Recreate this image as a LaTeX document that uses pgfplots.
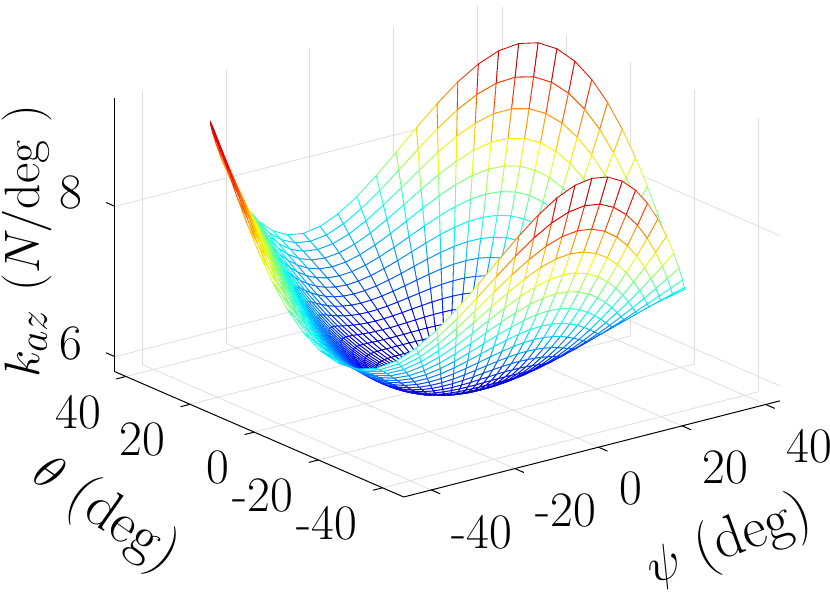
\documentclass[border=0pt]{standalone}
\usepackage{pgfplots}
\pgfplotsset{compat=1.18}
\begin{document}
\begin{tikzpicture}
\begin{axis}[
  scale only axis, width=332.5pt, height=247.5pt,
  view={-37.5}{30},
  xmin=-45, xmax=45, ymin=-45, ymax=45, zmin=5.8, zmax=9.44,
  xtick={-38.4,-18.4,1.6,21.6,41.6}, xticklabels={-40,-20,0,20,40},
  ytick={-38.4,-18.4,1.6,21.6,41.6}, yticklabels={-40,-20,0,20,40},
  ztick={6,8}, zticklabels={6,8},
  grid=major, grid style={black!13, line width=0.4pt},
  axis line style={draw=none},
  tick style={draw=none},
  major tick length=4.5pt, tick align=outside,
  ticklabel style={font=\fontsize{24.8}{28}\selectfont, inner sep=0pt},
  xticklabel style={anchor=north west, xshift=6pt, yshift=-10.5pt},
  yticklabel style={anchor=north east, xshift=-8pt, yshift=-8pt},
  zticklabel style={anchor=east, xshift=-12pt, yshift=5pt},
  xlabel={$\psi$ (deg)}, ylabel={$\theta$ (deg)}, zlabel={$k_{az}$ $(N/\mathrm{deg}\ )$},
  every axis x label/.style={at={(rel axis cs:0.372,-0.644,0)}, anchor=center, rotate=20, font=\fontsize{29}{33}\selectfont},
  every axis y label/.style={at={(rel axis cs:-0.565,0.296,0)}, anchor=center, rotate=-35, font=\fontsize{29}{33}\selectfont},
  every axis z label/.style={at={(rel axis cs:-0.234,1,0.56)}, anchor=center, rotate=90, font=\fontsize{30}{34}\selectfont},
  colormap={myjet}{rgb255=(0,0,128) rgb255=(0,0,255) rgb255=(0,128,255) rgb255=(0,255,255) rgb255=(128,255,128) rgb255=(255,255,0) rgb255=(255,128,0) rgb255=(255,0,0) rgb255=(128,0,0)},
  point meta min=5.79, point meta max=9.41,
  clip=false,
]
\addplot3[surf, shader=faceted, fill=white, faceted color=mapped color, line width=0.42pt, z buffer=sort, data cs=polar, mesh/cols=73] table {
-180 0 5.800
-175 0 5.800
-170 0 5.800
-165 0 5.800
-160 0 5.800
-155 0 5.800
-150 0 5.800
-145 0 5.800
-140 0 5.800
-135 0 5.800
-130 0 5.800
-125 0 5.800
-120 0 5.800
-115 0 5.800
-110 0 5.800
-105 0 5.800
-100 0 5.800
-95 0 5.800
-90 0 5.800
-85 0 5.800
-80 0 5.800
-75 0 5.800
-70 0 5.800
-65 0 5.800
-60 0 5.800
-55 0 5.800
-50 0 5.800
-45 0 5.800
-40 0 5.800
-35 0 5.800
-30 0 5.800
-25 0 5.800
-20 0 5.800
-15 0 5.800
-10 0 5.800
-5 0 5.800
0 0 5.800
5 0 5.800
10 0 5.800
15 0 5.800
20 0 5.800
25 0 5.800
30 0 5.800
35 0 5.800
40 0 5.800
45 0 5.800
50 0 5.800
55 0 5.800
60 0 5.800
65 0 5.800
70 0 5.800
75 0 5.800
80 0 5.800
85 0 5.800
90 0 5.800
95 0 5.800
100 0 5.800
105 0 5.800
110 0 5.800
115 0 5.800
120 0 5.800
125 0 5.800
130 0 5.800
135 0 5.800
140 0 5.800
145 0 5.800
150 0 5.800
155 0 5.800
160 0 5.800
165 0 5.800
170 0 5.800
175 0 5.800
180 0 5.800
-180 2.25 5.806
-175 2.25 5.806
-170 2.25 5.806
-165 2.25 5.806
-160 2.25 5.806
-155 2.25 5.806
-150 2.25 5.806
-145 2.25 5.806
-140 2.25 5.806
-135 2.25 5.806
-130 2.25 5.806
-125 2.25 5.806
-120 2.25 5.806
-115 2.25 5.806
-110 2.25 5.806
-105 2.25 5.806
-100 2.25 5.806
-95 2.25 5.806
-90 2.25 5.806
-85 2.25 5.806
-80 2.25 5.806
-75 2.25 5.806
-70 2.25 5.806
-65 2.25 5.806
-60 2.25 5.806
-55 2.25 5.806
-50 2.25 5.806
-45 2.25 5.806
-40 2.25 5.806
-35 2.25 5.806
-30 2.25 5.806
-25 2.25 5.806
-20 2.25 5.806
-15 2.25 5.806
-10 2.25 5.806
-5 2.25 5.806
0 2.25 5.806
5 2.25 5.806
10 2.25 5.806
15 2.25 5.806
20 2.25 5.806
25 2.25 5.806
30 2.25 5.806
35 2.25 5.806
40 2.25 5.806
45 2.25 5.806
50 2.25 5.806
55 2.25 5.806
60 2.25 5.806
65 2.25 5.806
70 2.25 5.806
75 2.25 5.806
80 2.25 5.806
85 2.25 5.806
90 2.25 5.806
95 2.25 5.806
100 2.25 5.806
105 2.25 5.806
110 2.25 5.806
115 2.25 5.806
120 2.25 5.806
125 2.25 5.806
130 2.25 5.806
135 2.25 5.806
140 2.25 5.806
145 2.25 5.806
150 2.25 5.806
155 2.25 5.806
160 2.25 5.806
165 2.25 5.806
170 2.25 5.806
175 2.25 5.806
180 2.25 5.806
-180 4.5 5.824
-175 4.5 5.824
-170 4.5 5.823
-165 4.5 5.823
-160 4.5 5.823
-155 4.5 5.823
-150 4.5 5.823
-145 4.5 5.823
-140 4.5 5.823
-135 4.5 5.823
-130 4.5 5.823
-125 4.5 5.824
-120 4.5 5.824
-115 4.5 5.824
-110 4.5 5.825
-105 4.5 5.825
-100 4.5 5.825
-95 4.5 5.825
-90 4.5 5.825
-85 4.5 5.825
-80 4.5 5.825
-75 4.5 5.825
-70 4.5 5.825
-65 4.5 5.824
-60 4.5 5.824
-55 4.5 5.824
-50 4.5 5.823
-45 4.5 5.823
-40 4.5 5.823
-35 4.5 5.823
-30 4.5 5.823
-25 4.5 5.823
-20 4.5 5.823
-15 4.5 5.823
-10 4.5 5.823
-5 4.5 5.824
0 4.5 5.824
5 4.5 5.824
10 4.5 5.825
15 4.5 5.825
20 4.5 5.825
25 4.5 5.825
30 4.5 5.825
35 4.5 5.825
40 4.5 5.825
45 4.5 5.825
50 4.5 5.825
55 4.5 5.824
60 4.5 5.824
65 4.5 5.824
70 4.5 5.823
75 4.5 5.823
80 4.5 5.823
85 4.5 5.823
90 4.5 5.823
95 4.5 5.823
100 4.5 5.823
105 4.5 5.823
110 4.5 5.823
115 4.5 5.824
120 4.5 5.824
125 4.5 5.824
130 4.5 5.825
135 4.5 5.825
140 4.5 5.825
145 4.5 5.825
150 4.5 5.825
155 4.5 5.825
160 4.5 5.825
165 4.5 5.825
170 4.5 5.825
175 4.5 5.824
180 4.5 5.824
-180 6.75 5.854
-175 6.75 5.853
-170 6.75 5.852
-165 6.75 5.851
-160 6.75 5.850
-155 6.75 5.850
-150 6.75 5.850
-145 6.75 5.850
-140 6.75 5.850
-135 6.75 5.851
-130 6.75 5.852
-125 6.75 5.853
-120 6.75 5.854
-115 6.75 5.855
-110 6.75 5.856
-105 6.75 5.857
-100 6.75 5.858
-95 6.75 5.858
-90 6.75 5.858
-85 6.75 5.858
-80 6.75 5.858
-75 6.75 5.857
-70 6.75 5.856
-65 6.75 5.855
-60 6.75 5.854
-55 6.75 5.853
-50 6.75 5.852
-45 6.75 5.851
-40 6.75 5.850
-35 6.75 5.850
-30 6.75 5.850
-25 6.75 5.850
-20 6.75 5.850
-15 6.75 5.851
-10 6.75 5.852
-5 6.75 5.853
0 6.75 5.854
5 6.75 5.855
10 6.75 5.856
15 6.75 5.857
20 6.75 5.858
25 6.75 5.858
30 6.75 5.858
35 6.75 5.858
40 6.75 5.858
45 6.75 5.857
50 6.75 5.856
55 6.75 5.855
60 6.75 5.854
65 6.75 5.853
70 6.75 5.852
75 6.75 5.851
80 6.75 5.850
85 6.75 5.850
90 6.75 5.850
95 6.75 5.850
100 6.75 5.850
105 6.75 5.851
110 6.75 5.852
115 6.75 5.853
120 6.75 5.854
125 6.75 5.855
130 6.75 5.856
135 6.75 5.857
140 6.75 5.858
145 6.75 5.858
150 6.75 5.858
155 6.75 5.858
160 6.75 5.858
165 6.75 5.857
170 6.75 5.856
175 6.75 5.855
180 6.75 5.854
-180 9 5.896
-175 9 5.894
-170 9 5.891
-165 9 5.889
-160 9 5.888
-155 9 5.887
-150 9 5.886
-145 9 5.887
-140 9 5.888
-135 9 5.889
-130 9 5.891
-125 9 5.894
-120 9 5.896
-115 9 5.898
-110 9 5.901
-105 9 5.903
-100 9 5.904
-95 9 5.905
-90 9 5.906
-85 9 5.905
-80 9 5.904
-75 9 5.903
-70 9 5.901
-65 9 5.898
-60 9 5.896
-55 9 5.894
-50 9 5.891
-45 9 5.889
-40 9 5.888
-35 9 5.887
-30 9 5.886
-25 9 5.887
-20 9 5.888
-15 9 5.889
-10 9 5.891
-5 9 5.894
0 9 5.896
5 9 5.898
10 9 5.901
15 9 5.903
20 9 5.904
25 9 5.905
30 9 5.906
35 9 5.905
40 9 5.904
45 9 5.903
50 9 5.901
55 9 5.898
60 9 5.896
65 9 5.894
70 9 5.891
75 9 5.889
80 9 5.888
85 9 5.887
90 9 5.886
95 9 5.887
100 9 5.888
105 9 5.889
110 9 5.891
115 9 5.894
120 9 5.896
125 9 5.898
130 9 5.901
135 9 5.903
140 9 5.904
145 9 5.905
150 9 5.906
155 9 5.905
160 9 5.904
165 9 5.903
170 9 5.901
175 9 5.898
180 9 5.896
-180 11.25 5.950
-175 11.25 5.945
-170 11.25 5.941
-165 11.25 5.937
-160 11.25 5.934
-155 11.25 5.932
-150 11.25 5.931
-145 11.25 5.932
-140 11.25 5.934
-135 11.25 5.937
-130 11.25 5.941
-125 11.25 5.945
-120 11.25 5.950
-115 11.25 5.955
-110 11.25 5.959
-105 11.25 5.963
-100 11.25 5.966
-95 11.25 5.968
-90 11.25 5.969
-85 11.25 5.968
-80 11.25 5.966
-75 11.25 5.963
-70 11.25 5.959
-65 11.25 5.955
-60 11.25 5.950
-55 11.25 5.945
-50 11.25 5.941
-45 11.25 5.937
-40 11.25 5.934
-35 11.25 5.932
-30 11.25 5.931
-25 11.25 5.932
-20 11.25 5.934
-15 11.25 5.937
-10 11.25 5.941
-5 11.25 5.945
0 11.25 5.950
5 11.25 5.955
10 11.25 5.959
15 11.25 5.963
20 11.25 5.966
25 11.25 5.968
30 11.25 5.969
35 11.25 5.968
40 11.25 5.966
45 11.25 5.963
50 11.25 5.959
55 11.25 5.955
60 11.25 5.950
65 11.25 5.945
70 11.25 5.941
75 11.25 5.937
80 11.25 5.934
85 11.25 5.932
90 11.25 5.931
95 11.25 5.932
100 11.25 5.934
105 11.25 5.937
110 11.25 5.941
115 11.25 5.945
120 11.25 5.950
125 11.25 5.955
130 11.25 5.959
135 11.25 5.963
140 11.25 5.966
145 11.25 5.968
150 11.25 5.969
155 11.25 5.968
160 11.25 5.966
165 11.25 5.963
170 11.25 5.959
175 11.25 5.955
180 11.25 5.950
-180 13.5 6.016
-175 13.5 6.008
-170 13.5 6.000
-165 13.5 5.993
-160 13.5 5.988
-155 13.5 5.985
-150 13.5 5.984
-145 13.5 5.985
-140 13.5 5.988
-135 13.5 5.993
-130 13.5 6.000
-125 13.5 6.008
-120 13.5 6.016
-115 13.5 6.024
-110 13.5 6.032
-105 13.5 6.039
-100 13.5 6.044
-95 13.5 6.047
-90 13.5 6.048
-85 13.5 6.047
-80 13.5 6.044
-75 13.5 6.039
-70 13.5 6.032
-65 13.5 6.024
-60 13.5 6.016
-55 13.5 6.008
-50 13.5 6.000
-45 13.5 5.993
-40 13.5 5.988
-35 13.5 5.985
-30 13.5 5.984
-25 13.5 5.985
-20 13.5 5.988
-15 13.5 5.993
-10 13.5 6.000
-5 13.5 6.008
0 13.5 6.016
5 13.5 6.024
10 13.5 6.032
15 13.5 6.039
20 13.5 6.044
25 13.5 6.047
30 13.5 6.048
35 13.5 6.047
40 13.5 6.044
45 13.5 6.039
50 13.5 6.032
55 13.5 6.024
60 13.5 6.016
65 13.5 6.008
70 13.5 6.000
75 13.5 5.993
80 13.5 5.988
85 13.5 5.985
90 13.5 5.984
95 13.5 5.985
100 13.5 5.988
105 13.5 5.993
110 13.5 6.000
115 13.5 6.008
120 13.5 6.016
125 13.5 6.024
130 13.5 6.032
135 13.5 6.039
140 13.5 6.044
145 13.5 6.047
150 13.5 6.048
155 13.5 6.047
160 13.5 6.044
165 13.5 6.039
170 13.5 6.032
175 13.5 6.024
180 13.5 6.016
-180 15.75 6.094
-175 15.75 6.081
-170 15.75 6.068
-165 15.75 6.058
-160 15.75 6.049
-155 15.75 6.044
-150 15.75 6.043
-145 15.75 6.044
-140 15.75 6.049
-135 15.75 6.058
-130 15.75 6.068
-125 15.75 6.081
-120 15.75 6.094
-115 15.75 6.107
-110 15.75 6.120
-105 15.75 6.130
-100 15.75 6.139
-95 15.75 6.144
-90 15.75 6.146
-85 15.75 6.144
-80 15.75 6.139
-75 15.75 6.130
-70 15.75 6.120
-65 15.75 6.107
-60 15.75 6.094
-55 15.75 6.081
-50 15.75 6.068
-45 15.75 6.058
-40 15.75 6.049
-35 15.75 6.044
-30 15.75 6.043
-25 15.75 6.044
-20 15.75 6.049
-15 15.75 6.058
-10 15.75 6.068
-5 15.75 6.081
0 15.75 6.094
5 15.75 6.107
10 15.75 6.120
15 15.75 6.130
20 15.75 6.139
25 15.75 6.144
30 15.75 6.146
35 15.75 6.144
40 15.75 6.139
45 15.75 6.130
50 15.75 6.120
55 15.75 6.107
60 15.75 6.094
65 15.75 6.081
70 15.75 6.068
75 15.75 6.058
80 15.75 6.049
85 15.75 6.044
90 15.75 6.043
95 15.75 6.044
100 15.75 6.049
105 15.75 6.058
110 15.75 6.068
115 15.75 6.081
120 15.75 6.094
125 15.75 6.107
130 15.75 6.120
135 15.75 6.130
140 15.75 6.139
145 15.75 6.144
150 15.75 6.146
155 15.75 6.144
160 15.75 6.139
165 15.75 6.130
170 15.75 6.120
175 15.75 6.107
180 15.75 6.094
-180 18 6.184
-175 18 6.164
-170 18 6.146
-165 18 6.130
-160 18 6.117
-155 18 6.110
-150 18 6.107
-145 18 6.110
-140 18 6.117
-135 18 6.130
-130 18 6.146
-125 18 6.164
-120 18 6.184
-115 18 6.204
-110 18 6.222
-105 18 6.238
-100 18 6.251
-95 18 6.258
-90 18 6.261
-85 18 6.258
-80 18 6.251
-75 18 6.238
-70 18 6.222
-65 18 6.204
-60 18 6.184
-55 18 6.164
-50 18 6.146
-45 18 6.130
-40 18 6.117
-35 18 6.110
-30 18 6.107
-25 18 6.110
-20 18 6.117
-15 18 6.130
-10 18 6.146
-5 18 6.164
0 18 6.184
5 18 6.204
10 18 6.222
15 18 6.238
20 18 6.251
25 18 6.258
30 18 6.261
35 18 6.258
40 18 6.251
45 18 6.238
50 18 6.222
55 18 6.204
60 18 6.184
65 18 6.164
70 18 6.146
75 18 6.130
80 18 6.117
85 18 6.110
90 18 6.107
95 18 6.110
100 18 6.117
105 18 6.130
110 18 6.146
115 18 6.164
120 18 6.184
125 18 6.204
130 18 6.222
135 18 6.238
140 18 6.251
145 18 6.258
150 18 6.261
155 18 6.258
160 18 6.251
165 18 6.238
170 18 6.222
175 18 6.204
180 18 6.184
-180 20.25 6.286
-175 20.25 6.258
-170 20.25 6.231
-165 20.25 6.209
-160 20.25 6.191
-155 20.25 6.180
-150 20.25 6.177
-145 20.25 6.180
-140 20.25 6.191
-135 20.25 6.209
-130 20.25 6.231
-125 20.25 6.258
-120 20.25 6.286
-115 20.25 6.314
-110 20.25 6.341
-105 20.25 6.363
-100 20.25 6.381
-95 20.25 6.392
-90 20.25 6.395
-85 20.25 6.392
-80 20.25 6.381
-75 20.25 6.363
-70 20.25 6.341
-65 20.25 6.314
-60 20.25 6.286
-55 20.25 6.258
-50 20.25 6.231
-45 20.25 6.209
-40 20.25 6.191
-35 20.25 6.180
-30 20.25 6.177
-25 20.25 6.180
-20 20.25 6.191
-15 20.25 6.209
-10 20.25 6.231
-5 20.25 6.258
0 20.25 6.286
5 20.25 6.314
10 20.25 6.341
15 20.25 6.363
20 20.25 6.381
25 20.25 6.392
30 20.25 6.395
35 20.25 6.392
40 20.25 6.381
45 20.25 6.363
50 20.25 6.341
55 20.25 6.314
60 20.25 6.286
65 20.25 6.258
70 20.25 6.231
75 20.25 6.209
80 20.25 6.191
85 20.25 6.180
90 20.25 6.177
95 20.25 6.180
100 20.25 6.191
105 20.25 6.209
110 20.25 6.231
115 20.25 6.258
120 20.25 6.286
125 20.25 6.314
130 20.25 6.341
135 20.25 6.363
140 20.25 6.381
145 20.25 6.392
150 20.25 6.395
155 20.25 6.392
160 20.25 6.381
165 20.25 6.363
170 20.25 6.341
175 20.25 6.314
180 20.25 6.286
-180 22.5 6.400
-175 22.5 6.361
-170 22.5 6.325
-165 22.5 6.294
-160 22.5 6.270
-155 22.5 6.255
-150 22.5 6.250
-145 22.5 6.255
-140 22.5 6.270
-135 22.5 6.294
-130 22.5 6.325
-125 22.5 6.361
-120 22.5 6.400
-115 22.5 6.439
-110 22.5 6.475
-105 22.5 6.506
-100 22.5 6.530
-95 22.5 6.545
-90 22.5 6.550
-85 22.5 6.545
-80 22.5 6.530
-75 22.5 6.506
-70 22.5 6.475
-65 22.5 6.439
-60 22.5 6.400
-55 22.5 6.361
-50 22.5 6.325
-45 22.5 6.294
-40 22.5 6.270
-35 22.5 6.255
-30 22.5 6.250
-25 22.5 6.255
-20 22.5 6.270
-15 22.5 6.294
-10 22.5 6.325
-5 22.5 6.361
0 22.5 6.400
5 22.5 6.439
10 22.5 6.475
15 22.5 6.506
20 22.5 6.530
25 22.5 6.545
30 22.5 6.550
35 22.5 6.545
40 22.5 6.530
45 22.5 6.506
50 22.5 6.475
55 22.5 6.439
60 22.5 6.400
65 22.5 6.361
70 22.5 6.325
75 22.5 6.294
80 22.5 6.270
85 22.5 6.255
90 22.5 6.250
95 22.5 6.255
100 22.5 6.270
105 22.5 6.294
110 22.5 6.325
115 22.5 6.361
120 22.5 6.400
125 22.5 6.439
130 22.5 6.475
135 22.5 6.506
140 22.5 6.530
145 22.5 6.545
150 22.5 6.550
155 22.5 6.545
160 22.5 6.530
165 22.5 6.506
170 22.5 6.475
175 22.5 6.439
180 22.5 6.400
-180 24.75 6.526
-175 24.75 6.474
-170 24.75 6.426
-165 24.75 6.385
-160 24.75 6.353
-155 24.75 6.333
-150 24.75 6.326
-145 24.75 6.333
-140 24.75 6.353
-135 24.75 6.385
-130 24.75 6.426
-125 24.75 6.474
-120 24.75 6.526
-115 24.75 6.578
-110 24.75 6.626
-105 24.75 6.667
-100 24.75 6.699
-95 24.75 6.719
-90 24.75 6.726
-85 24.75 6.719
-80 24.75 6.699
-75 24.75 6.667
-70 24.75 6.626
-65 24.75 6.578
-60 24.75 6.526
-55 24.75 6.474
-50 24.75 6.426
-45 24.75 6.385
-40 24.75 6.353
-35 24.75 6.333
-30 24.75 6.326
-25 24.75 6.333
-20 24.75 6.353
-15 24.75 6.385
-10 24.75 6.426
-5 24.75 6.474
0 24.75 6.526
5 24.75 6.578
10 24.75 6.626
15 24.75 6.667
20 24.75 6.699
25 24.75 6.719
30 24.75 6.726
35 24.75 6.719
40 24.75 6.699
45 24.75 6.667
50 24.75 6.626
55 24.75 6.578
60 24.75 6.526
65 24.75 6.474
70 24.75 6.426
75 24.75 6.385
80 24.75 6.353
85 24.75 6.333
90 24.75 6.326
95 24.75 6.333
100 24.75 6.353
105 24.75 6.385
110 24.75 6.426
115 24.75 6.474
120 24.75 6.526
125 24.75 6.578
130 24.75 6.626
135 24.75 6.667
140 24.75 6.699
145 24.75 6.719
150 24.75 6.726
155 24.75 6.719
160 24.75 6.699
165 24.75 6.667
170 24.75 6.626
175 24.75 6.578
180 24.75 6.526
-180 27 6.664
-175 27 6.597
-170 27 6.534
-165 27 6.481
-160 27 6.440
-155 27 6.414
-150 27 6.405
-145 27 6.414
-140 27 6.440
-135 27 6.481
-130 27 6.534
-125 27 6.597
-120 27 6.664
-115 27 6.731
-110 27 6.794
-105 27 6.847
-100 27 6.888
-95 27 6.914
-90 27 6.923
-85 27 6.914
-80 27 6.888
-75 27 6.847
-70 27 6.794
-65 27 6.731
-60 27 6.664
-55 27 6.597
-50 27 6.534
-45 27 6.481
-40 27 6.440
-35 27 6.414
-30 27 6.405
-25 27 6.414
-20 27 6.440
-15 27 6.481
-10 27 6.534
-5 27 6.597
0 27 6.664
5 27 6.731
10 27 6.794
15 27 6.847
20 27 6.888
25 27 6.914
30 27 6.923
35 27 6.914
40 27 6.888
45 27 6.847
50 27 6.794
55 27 6.731
60 27 6.664
65 27 6.597
70 27 6.534
75 27 6.481
80 27 6.440
85 27 6.414
90 27 6.405
95 27 6.414
100 27 6.440
105 27 6.481
110 27 6.534
115 27 6.597
120 27 6.664
125 27 6.731
130 27 6.794
135 27 6.847
140 27 6.888
145 27 6.914
150 27 6.923
155 27 6.914
160 27 6.888
165 27 6.847
170 27 6.794
175 27 6.731
180 27 6.664
-180 29.25 6.814
-175 29.25 6.729
-170 29.25 6.649
-165 29.25 6.581
-160 29.25 6.529
-155 29.25 6.496
-150 29.25 6.485
-145 29.25 6.496
-140 29.25 6.529
-135 29.25 6.581
-130 29.25 6.649
-125 29.25 6.729
-120 29.25 6.814
-115 29.25 6.899
-110 29.25 6.979
-105 29.25 7.047
-100 29.25 7.099
-95 29.25 7.132
-90 29.25 7.144
-85 29.25 7.132
-80 29.25 7.099
-75 29.25 7.047
-70 29.25 6.979
-65 29.25 6.899
-60 29.25 6.814
-55 29.25 6.729
-50 29.25 6.649
-45 29.25 6.581
-40 29.25 6.529
-35 29.25 6.496
-30 29.25 6.485
-25 29.25 6.496
-20 29.25 6.529
-15 29.25 6.581
-10 29.25 6.649
-5 29.25 6.729
0 29.25 6.814
5 29.25 6.899
10 29.25 6.979
15 29.25 7.047
20 29.25 7.099
25 29.25 7.132
30 29.25 7.144
35 29.25 7.132
40 29.25 7.099
45 29.25 7.047
50 29.25 6.979
55 29.25 6.899
60 29.25 6.814
65 29.25 6.729
70 29.25 6.649
75 29.25 6.581
80 29.25 6.529
85 29.25 6.496
90 29.25 6.485
95 29.25 6.496
100 29.25 6.529
105 29.25 6.581
110 29.25 6.649
115 29.25 6.729
120 29.25 6.814
125 29.25 6.899
130 29.25 6.979
135 29.25 7.047
140 29.25 7.099
145 29.25 7.132
150 29.25 7.144
155 29.25 7.132
160 29.25 7.099
165 29.25 7.047
170 29.25 6.979
175 29.25 6.899
180 29.25 6.814
-180 31.5 6.976
-175 31.5 6.869
-170 31.5 6.770
-165 31.5 6.685
-160 31.5 6.620
-155 31.5 6.578
-150 31.5 6.564
-145 31.5 6.578
-140 31.5 6.620
-135 31.5 6.685
-130 31.5 6.770
-125 31.5 6.869
-120 31.5 6.976
-115 31.5 7.083
-110 31.5 7.182
-105 31.5 7.267
-100 31.5 7.332
-95 31.5 7.374
-90 31.5 7.388
-85 31.5 7.374
-80 31.5 7.332
-75 31.5 7.267
-70 31.5 7.182
-65 31.5 7.083
-60 31.5 6.976
-55 31.5 6.869
-50 31.5 6.770
-45 31.5 6.685
-40 31.5 6.620
-35 31.5 6.578
-30 31.5 6.564
-25 31.5 6.578
-20 31.5 6.620
-15 31.5 6.685
-10 31.5 6.770
-5 31.5 6.869
0 31.5 6.976
5 31.5 7.083
10 31.5 7.182
15 31.5 7.267
20 31.5 7.332
25 31.5 7.374
30 31.5 7.388
35 31.5 7.374
40 31.5 7.332
45 31.5 7.267
50 31.5 7.182
55 31.5 7.083
60 31.5 6.976
65 31.5 6.869
70 31.5 6.770
75 31.5 6.685
80 31.5 6.620
85 31.5 6.578
90 31.5 6.564
95 31.5 6.578
100 31.5 6.620
105 31.5 6.685
110 31.5 6.770
115 31.5 6.869
120 31.5 6.976
125 31.5 7.083
130 31.5 7.182
135 31.5 7.267
140 31.5 7.332
145 31.5 7.374
150 31.5 7.388
155 31.5 7.374
160 31.5 7.332
165 31.5 7.267
170 31.5 7.182
175 31.5 7.083
180 31.5 6.976
-180 33.75 7.150
-175 33.75 7.019
-170 33.75 6.897
-165 33.75 6.792
-160 33.75 6.712
-155 33.75 6.661
-150 33.75 6.644
-145 33.75 6.661
-140 33.75 6.712
-135 33.75 6.792
-130 33.75 6.897
-125 33.75 7.019
-120 33.75 7.150
-115 33.75 7.281
-110 33.75 7.403
-105 33.75 7.508
-100 33.75 7.588
-95 33.75 7.639
-90 33.75 7.656
-85 33.75 7.639
-80 33.75 7.588
-75 33.75 7.508
-70 33.75 7.403
-65 33.75 7.281
-60 33.75 7.150
-55 33.75 7.019
-50 33.75 6.897
-45 33.75 6.792
-40 33.75 6.712
-35 33.75 6.661
-30 33.75 6.644
-25 33.75 6.661
-20 33.75 6.712
-15 33.75 6.792
-10 33.75 6.897
-5 33.75 7.019
0 33.75 7.150
5 33.75 7.281
10 33.75 7.403
15 33.75 7.508
20 33.75 7.588
25 33.75 7.639
30 33.75 7.656
35 33.75 7.639
40 33.75 7.588
45 33.75 7.508
50 33.75 7.403
55 33.75 7.281
60 33.75 7.150
65 33.75 7.019
70 33.75 6.897
75 33.75 6.792
80 33.75 6.712
85 33.75 6.661
90 33.75 6.644
95 33.75 6.661
100 33.75 6.712
105 33.75 6.792
110 33.75 6.897
115 33.75 7.019
120 33.75 7.150
125 33.75 7.281
130 33.75 7.403
135 33.75 7.508
140 33.75 7.588
145 33.75 7.639
150 33.75 7.656
155 33.75 7.639
160 33.75 7.588
165 33.75 7.508
170 33.75 7.403
175 33.75 7.281
180 33.75 7.150
-180 36 7.336
-175 36 7.177
-170 36 7.029
-165 36 6.902
-160 36 6.804
-155 36 6.742
-150 36 6.722
-145 36 6.742
-140 36 6.804
-135 36 6.902
-130 36 7.029
-125 36 7.177
-120 36 7.336
-115 36 7.495
-110 36 7.643
-105 36 7.770
-100 36 7.868
-95 36 7.930
-90 36 7.950
-85 36 7.930
-80 36 7.868
-75 36 7.770
-70 36 7.643
-65 36 7.495
-60 36 7.336
-55 36 7.177
-50 36 7.029
-45 36 6.902
-40 36 6.804
-35 36 6.742
-30 36 6.722
-25 36 6.742
-20 36 6.804
-15 36 6.902
-10 36 7.029
-5 36 7.177
0 36 7.336
5 36 7.495
10 36 7.643
15 36 7.770
20 36 7.868
25 36 7.930
30 36 7.950
35 36 7.930
40 36 7.868
45 36 7.770
50 36 7.643
55 36 7.495
60 36 7.336
65 36 7.177
70 36 7.029
75 36 6.902
80 36 6.804
85 36 6.742
90 36 6.722
95 36 6.742
100 36 6.804
105 36 6.902
110 36 7.029
115 36 7.177
120 36 7.336
125 36 7.495
130 36 7.643
135 36 7.770
140 36 7.868
145 36 7.930
150 36 7.950
155 36 7.930
160 36 7.868
165 36 7.770
170 36 7.643
175 36 7.495
180 36 7.336
-180 38.25 7.534
-175 38.25 7.343
-170 38.25 7.166
-165 38.25 7.013
-160 38.25 6.896
-155 38.25 6.822
-150 38.25 6.797
-145 38.25 6.822
-140 38.25 6.896
-135 38.25 7.013
-130 38.25 7.166
-125 38.25 7.343
-120 38.25 7.534
-115 38.25 7.725
-110 38.25 7.902
-105 38.25 8.055
-100 38.25 8.172
-95 38.25 8.246
-90 38.25 8.271
-85 38.25 8.246
-80 38.25 8.172
-75 38.25 8.055
-70 38.25 7.902
-65 38.25 7.725
-60 38.25 7.534
-55 38.25 7.343
-50 38.25 7.166
-45 38.25 7.013
-40 38.25 6.896
-35 38.25 6.822
-30 38.25 6.797
-25 38.25 6.822
-20 38.25 6.896
-15 38.25 7.013
-10 38.25 7.166
-5 38.25 7.343
0 38.25 7.534
5 38.25 7.725
10 38.25 7.902
15 38.25 8.055
20 38.25 8.172
25 38.25 8.246
30 38.25 8.271
35 38.25 8.246
40 38.25 8.172
45 38.25 8.055
50 38.25 7.902
55 38.25 7.725
60 38.25 7.534
65 38.25 7.343
70 38.25 7.166
75 38.25 7.013
80 38.25 6.896
85 38.25 6.822
90 38.25 6.797
95 38.25 6.822
100 38.25 6.896
105 38.25 7.013
110 38.25 7.166
115 38.25 7.343
120 38.25 7.534
125 38.25 7.725
130 38.25 7.902
135 38.25 8.055
140 38.25 8.172
145 38.25 8.246
150 38.25 8.271
155 38.25 8.246
160 38.25 8.172
165 38.25 8.055
170 38.25 7.902
175 38.25 7.725
180 38.25 7.534
-180 40.5 7.744
-175 40.5 7.517
-170 40.5 7.307
-165 40.5 7.126
-160 40.5 6.986
-155 40.5 6.899
-150 40.5 6.869
-145 40.5 6.899
-140 40.5 6.986
-135 40.5 7.126
-130 40.5 7.307
-125 40.5 7.517
-120 40.5 7.744
-115 40.5 7.971
-110 40.5 8.181
-105 40.5 8.362
-100 40.5 8.502
-95 40.5 8.589
-90 40.5 8.619
-85 40.5 8.589
-80 40.5 8.502
-75 40.5 8.362
-70 40.5 8.181
-65 40.5 7.971
-60 40.5 7.744
-55 40.5 7.517
-50 40.5 7.307
-45 40.5 7.126
-40 40.5 6.986
-35 40.5 6.899
-30 40.5 6.869
-25 40.5 6.899
-20 40.5 6.986
-15 40.5 7.126
-10 40.5 7.307
-5 40.5 7.517
0 40.5 7.744
5 40.5 7.971
10 40.5 8.181
15 40.5 8.362
20 40.5 8.502
25 40.5 8.589
30 40.5 8.619
35 40.5 8.589
40 40.5 8.502
45 40.5 8.362
50 40.5 8.181
55 40.5 7.971
60 40.5 7.744
65 40.5 7.517
70 40.5 7.307
75 40.5 7.126
80 40.5 6.986
85 40.5 6.899
90 40.5 6.869
95 40.5 6.899
100 40.5 6.986
105 40.5 7.126
110 40.5 7.307
115 40.5 7.517
120 40.5 7.744
125 40.5 7.971
130 40.5 8.181
135 40.5 8.362
140 40.5 8.502
145 40.5 8.589
150 40.5 8.619
155 40.5 8.589
160 40.5 8.502
165 40.5 8.362
170 40.5 8.181
175 40.5 7.971
180 40.5 7.744
-180 42.75 7.966
-175 42.75 7.700
-170 42.75 7.452
-165 42.75 7.239
-160 42.75 7.075
-155 42.75 6.972
-150 42.75 6.937
-145 42.75 6.972
-140 42.75 7.075
-135 42.75 7.239
-130 42.75 7.452
-125 42.75 7.700
-120 42.75 7.966
-115 42.75 8.232
-110 42.75 8.480
-105 42.75 8.693
-100 42.75 8.857
-95 42.75 8.960
-90 42.75 8.995
-85 42.75 8.960
-80 42.75 8.857
-75 42.75 8.693
-70 42.75 8.480
-65 42.75 8.232
-60 42.75 7.966
-55 42.75 7.700
-50 42.75 7.452
-45 42.75 7.239
-40 42.75 7.075
-35 42.75 6.972
-30 42.75 6.937
-25 42.75 6.972
-20 42.75 7.075
-15 42.75 7.239
-10 42.75 7.452
-5 42.75 7.700
0 42.75 7.966
5 42.75 8.232
10 42.75 8.480
15 42.75 8.693
20 42.75 8.857
25 42.75 8.960
30 42.75 8.995
35 42.75 8.960
40 42.75 8.857
45 42.75 8.693
50 42.75 8.480
55 42.75 8.232
60 42.75 7.966
65 42.75 7.700
70 42.75 7.452
75 42.75 7.239
80 42.75 7.075
85 42.75 6.972
90 42.75 6.937
95 42.75 6.972
100 42.75 7.075
105 42.75 7.239
110 42.75 7.452
115 42.75 7.700
120 42.75 7.966
125 42.75 8.232
130 42.75 8.480
135 42.75 8.693
140 42.75 8.857
145 42.75 8.960
150 42.75 8.995
155 42.75 8.960
160 42.75 8.857
165 42.75 8.693
170 42.75 8.480
175 42.75 8.232
180 42.75 7.966
-180 45 8.200
-175 45 7.889
-170 45 7.600
-165 45 7.352
-160 45 7.161
-155 45 7.041
-150 45 7.000
-145 45 7.041
-140 45 7.161
-135 45 7.352
-130 45 7.600
-125 45 7.889
-120 45 8.200
-115 45 8.511
-110 45 8.800
-105 45 9.048
-100 45 9.239
-95 45 9.359
-90 45 9.400
-85 45 9.359
-80 45 9.239
-75 45 9.048
-70 45 8.800
-65 45 8.511
-60 45 8.200
-55 45 7.889
-50 45 7.600
-45 45 7.352
-40 45 7.161
-35 45 7.041
-30 45 7.000
-25 45 7.041
-20 45 7.161
-15 45 7.352
-10 45 7.600
-5 45 7.889
0 45 8.200
5 45 8.511
10 45 8.800
15 45 9.048
20 45 9.239
25 45 9.359
30 45 9.400
35 45 9.359
40 45 9.239
45 45 9.048
50 45 8.800
55 45 8.511
60 45 8.200
65 45 7.889
70 45 7.600
75 45 7.352
80 45 7.161
85 45 7.041
90 45 7.000
95 45 7.041
100 45 7.161
105 45 7.352
110 45 7.600
115 45 7.889
120 45 8.200
125 45 8.511
130 45 8.800
135 45 9.048
140 45 9.239
145 45 9.359
150 45 9.400
155 45 9.359
160 45 9.239
165 45 9.048
170 45 8.800
175 45 8.511
180 45 8.200
};
\draw[black, line width=0.5pt] (rel axis cs:0,0,0) -- (rel axis cs:1,0,0);
\draw[black, line width=0.5pt] (rel axis cs:0,0,0) -- (rel axis cs:0,1,0);
\draw[black, line width=0.5pt] (rel axis cs:0,1,0) -- (rel axis cs:0,1,1);
\draw[black, line width=0.5pt] (axis cs:-38.4,-45,5.8) -- (axis cs:-38.4,-47.8,5.8);
\draw[black, line width=0.5pt] (axis cs:-18.4,-45,5.8) -- (axis cs:-18.4,-47.8,5.8);
\draw[black, line width=0.5pt] (axis cs:1.6,-45,5.8) -- (axis cs:1.6,-47.8,5.8);
\draw[black, line width=0.5pt] (axis cs:21.6,-45,5.8) -- (axis cs:21.6,-47.8,5.8);
\draw[black, line width=0.5pt] (axis cs:41.6,-45,5.8) -- (axis cs:41.6,-47.8,5.8);
\draw[black, line width=0.5pt] (axis cs:-45,-38.4,5.8) -- (axis cs:-47.3,-38.4,5.8);
\draw[black, line width=0.5pt] (axis cs:-45,-18.4,5.8) -- (axis cs:-47.3,-18.4,5.8);
\draw[black, line width=0.5pt] (axis cs:-45,1.6,5.8) -- (axis cs:-47.3,1.6,5.8);
\draw[black, line width=0.5pt] (axis cs:-45,21.6,5.8) -- (axis cs:-47.3,21.6,5.8);
\draw[black, line width=0.5pt] (axis cs:-45,41.6,5.8) -- (axis cs:-47.3,41.6,5.8);
\draw[black, line width=0.5pt] (axis cs:-45,45,6) -- (axis cs:-45,47.8,6);
\draw[black, line width=0.5pt] (axis cs:-45,45,8) -- (axis cs:-45,47.8,8);
\end{axis}
\pgfresetboundingbox
\path (-57.5pt,-50pt) rectangle (357.5pt,248.5pt);
\end{tikzpicture}
\end{document}
